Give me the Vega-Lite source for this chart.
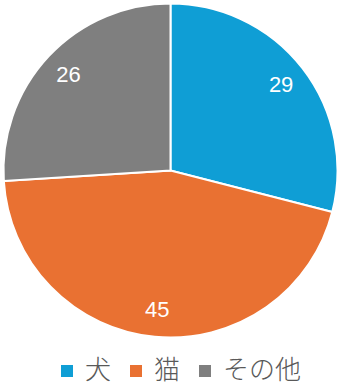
{
  "$schema": "https://vega.github.io/schema/vega-lite/v6.json",
  "width": 341,
  "height": 341,
  "autosize": "none",
  "padding": {"top": 0, "left": 0, "right": 0, "bottom": 48},
  "background": "white",
  "data": {"values": [
    {"category": "犬", "value": 29, "order": 1},
    {"category": "猫", "value": 45, "order": 2},
    {"category": "その他", "value": 26, "order": 3}
  ]},
  "encoding": {
    "theta": {"field": "value", "type": "quantitative", "stack": true},
    "order": {"field": "order"},
    "color": {
      "field": "category", "type": "nominal",
      "sort": ["犬", "猫", "その他"],
      "scale": {"domain": ["犬", "猫", "その他"], "range": ["#0F9ED5", "#E97132", "#7F7F7F"]},
      "legend": {
        "orient": "none", "legendX": 54, "legendY": 358, "direction": "horizontal", "title": null,
        "symbolType": "square", "symbolSize": 144, "symbolStrokeWidth": 0,
        "labelFontSize": 26, "labelFont": "Noto Sans CJK JP", "labelFontWeight": 300, "labelColor": "#595959",
        "labelOffset": 5, "columnPadding": 11
      }
    }
  },
  "layer": [
    {"mark": {"type": "arc", "outerRadius": 167, "stroke": "white", "strokeWidth": 2}},
    {"mark": {"type": "text", "radius": 140, "fontSize": 22, "font": "Liberation Sans", "fill": "white"},
     "encoding": {"text": {"field": "value", "type": "quantitative"}}}
  ]
}
